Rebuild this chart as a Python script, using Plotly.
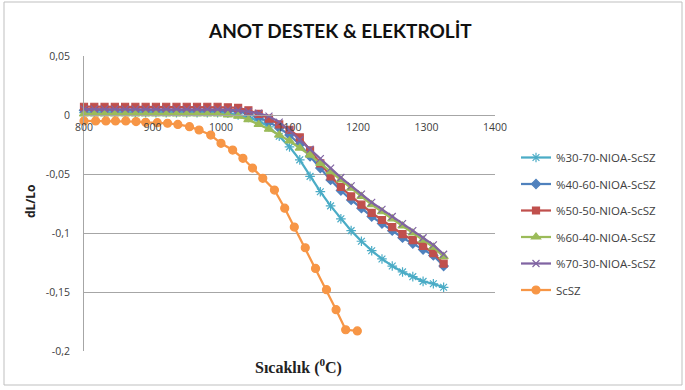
import plotly.graph_objects as go

# ---------------- data ----------------
temps = [800, 815, 830, 845, 860, 875, 890, 905, 920, 935, 950, 965, 980, 995,
         1010, 1025, 1040, 1055, 1070, 1085, 1100, 1115, 1130, 1145, 1160, 1175,
         1190, 1205, 1220, 1235, 1250, 1265, 1280, 1295, 1310, 1325]

s30_70 = [0.002, 0.002, 0.002, 0.002, 0.002, 0.002, 0.002, 0.002, 0.002, 0.002, 0.002, 0.002, 0.002, 0.002,
          0.0015, 0.0, -0.002, -0.005, -0.010, -0.018, -0.027, -0.038, -0.052, -0.065, -0.077, -0.088,
          -0.098, -0.107, -0.115, -0.122, -0.128, -0.133, -0.137, -0.141, -0.143, -0.146]

s40_60 = [0.004, 0.004, 0.004, 0.004, 0.004, 0.004, 0.004, 0.004, 0.004, 0.004, 0.004, 0.004, 0.004, 0.004,
          0.0035, 0.003, 0.001, -0.002, -0.006, -0.011, -0.017, -0.025, -0.035, -0.045, -0.055, -0.064,
          -0.072, -0.079, -0.086, -0.092, -0.098, -0.104, -0.109, -0.114, -0.119, -0.128]

s50_50 = [0.007, 0.007, 0.007, 0.007, 0.007, 0.007, 0.007, 0.007, 0.007, 0.007, 0.007, 0.007, 0.007, 0.007,
          0.0065, 0.006, 0.004, 0.001, -0.003, -0.008, -0.0125, -0.019, -0.030, -0.041, -0.052, -0.061,
          -0.069, -0.076, -0.083, -0.089, -0.095, -0.101, -0.106, -0.111, -0.117, -0.126]

s60_40 = [0.001, 0.001, 0.001, 0.001, 0.001, 0.001, 0.001, 0.001, 0.001, 0.001, 0.001, 0.001, 0.001, 0.001,
          0.0, -0.001, -0.004, -0.008, -0.012, -0.017, -0.022, -0.028, -0.034, -0.041, -0.048, -0.055,
          -0.062, -0.069, -0.076, -0.082, -0.088, -0.094, -0.100, -0.106, -0.112, -0.120]

s70_30 = [0.005, 0.005, 0.005, 0.005, 0.005, 0.005, 0.005, 0.005, 0.005, 0.005, 0.005, 0.005, 0.005, 0.0048,
          0.0045, 0.004, 0.003, 0.0015, -0.001, -0.006, -0.013, -0.021, -0.029, -0.037, -0.045, -0.053,
          -0.060, -0.067, -0.074, -0.080, -0.086, -0.092, -0.098, -0.104, -0.110, -0.118]

scsz_temps = [800, 817, 832, 846, 861, 876, 890, 907, 922, 937, 954, 968, 985, 1000,
              1017, 1032, 1046, 1061, 1078, 1093, 1107, 1123, 1138, 1154, 1168, 1182, 1199]
scsz = [-0.005, -0.005, -0.005, -0.005, -0.005, -0.0056, -0.0062, -0.0065, -0.007, -0.008, -0.0099,
        -0.0127, -0.017, -0.024, -0.0297, -0.0367, -0.045, -0.0537, -0.0636, -0.079, -0.095, -0.1125,
        -0.13, -0.148, -0.165, -0.182, -0.183]

series_names = ["%30-70-NIOA-ScSZ", "%40-60-NIOA-ScSZ", "%50-50-NIOA-ScSZ",
                "%60-40-NIOA-ScSZ", "%70-30-NIOA-ScSZ", "ScSZ"]

x_ticks = [800, 900, 1000, 1100, 1200, 1300, 1400]
y_ticks = [0.05, 0, -0.05, -0.1, -0.15, -0.2]
y_ticktext = ["0,05", "0", "-0,05", "-0,1", "-0,15", "-0,2"]

# ---------------- styling ----------------
W, H = 685, 390
L, R, T, B = 84, 190, 56, 39
PW = W - L - R
PH = H - T - B


def px_x(p):
    return (p - L) / PW


def px_y(q):
    return (H - B - q) / PH


styles = [
    dict(color="#4BACC6", symbol="asterisk-open", size=8),
    dict(color="#4F81BD", symbol="diamond", size=7),
    dict(color="#C0504D", symbol="square", size=7),
    dict(color="#9BBB59", symbol="triangle-up", size=8),
    dict(color="#8064A2", symbol="x-thin-open", size=7),
    dict(color="#F79646", symbol="circle", size=8),
]

data_sets = [(temps, s30_70), (temps, s40_60), (temps, s50_50),
             (temps, s60_40), (temps, s70_30), (scsz_temps, scsz)]

fig = go.Figure()
for i, ((xs, ys), name, st) in enumerate(zip(data_sets, series_names, styles)):
    fig.add_trace(go.Scatter(
        x=xs, y=ys, name=name, mode="lines+markers",
        line=dict(color=st["color"], width=2.25),
        marker=dict(symbol=st["symbol"], size=st["size"], color=st["color"],
                    line=dict(color=st["color"], width=1.2)),
        cliponaxis=False, legendgroup=f"g{i}",
    ))

tick_font = dict(family="Open Sans", size=10.5, color="#404040")

fig.update_layout(
    width=W, height=H,
    margin=dict(l=L, r=R, t=T, b=B),
    paper_bgcolor="white", plot_bgcolor="white",
    showlegend=True,
    legend=dict(x=px_x(516), y=px_y(143), xanchor="left", yanchor="top",
                font=dict(family="Open Sans", size=11.5, color="#404040"),
                tracegroupgap=7.5, itemwidth=30, bgcolor="rgba(0,0,0,0)"),
    xaxis=dict(range=[800, 1400], tickvals=x_ticks, showgrid=False, zeroline=False,
               anchor="free", position=0.8, showline=True, linecolor="#A6A6A6", linewidth=1,
               ticks="", tickfont=tick_font, ticklabelstandoff=2),
    yaxis=dict(range=[-0.2, 0.05], tickvals=y_ticks, ticktext=y_ticktext,
               showgrid=True, gridcolor="#A6A6A6", gridwidth=1, zeroline=False,
               showline=True, linecolor="#A6A6A6", linewidth=1,
               ticks="", tickfont=tick_font, ticklabelstandoff=11),
    shapes=[dict(type="rect", xref="paper", yref="paper",
                 x0=px_x(4), x1=px_x(682), y0=px_y(385), y1=px_y(2),
                 line=dict(color="#BFBFBF", width=1), layer="below")],
    annotations=[
        dict(text="<b>ANOT DESTEK &amp; ELEKTROLİT</b>", xref="paper", yref="paper",
             x=px_x(340), y=px_y(30), xanchor="center", yanchor="middle", showarrow=False,
             font=dict(family="Lato", size=19, color="#111111")),
        dict(text="<b>Sıcaklık (<sup>0</sup>C)</b>", xref="paper", yref="paper",
             x=px_x(298), y=px_y(366), xanchor="center", yanchor="middle", showarrow=False,
             font=dict(family="Liberation Serif", size=16, color="#222222")),
        dict(text="<b>dL/Lo</b>", xref="paper", yref="paper", textangle=-90,
             x=px_x(30), y=px_y(201), xanchor="center", yanchor="middle", showarrow=False,
             font=dict(family="Open Sans", size=12, color="#222222")),
    ],
)

fig.write_html("out.html", config={"displayModeBar": False},
               post_script="document.body.style.margin='0';document.body.style.overflow='hidden';")
